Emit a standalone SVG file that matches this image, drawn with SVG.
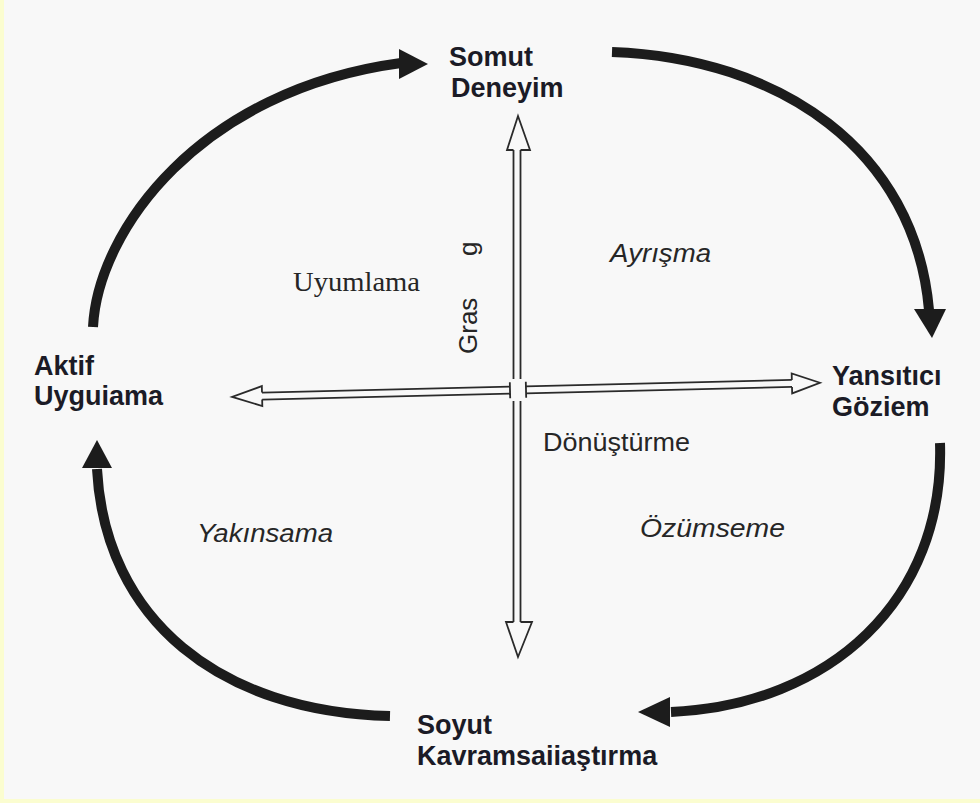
<svg xmlns="http://www.w3.org/2000/svg" width="980" height="803" viewBox="0 0 980 803">
  <style>
    .node { font-family: "Liberation Sans", Arial, sans-serif; font-weight: bold; font-size: 27px; fill: #1b1b26; }
    .lbl { font-family: "Liberation Sans", Arial, sans-serif; font-size: 26px; fill: #262626; }
    .it { font-style: italic; }
    .serif { font-family: "Liberation Serif", "Times New Roman", serif; font-size: 27px; fill: #262626; }
    .cycle { fill: none; stroke: #1c1c1c; stroke-width: 10; stroke-linecap: butt; }
    .head { fill: #1c1c1c; }
    .hollow { fill: none; stroke: #2a2a2a; stroke-width: 1.8; stroke-linejoin: miter; }
  </style>

  <!-- page background with light yellow frame edges -->
  <rect x="0" y="0" width="980" height="803" fill="#f8f8f8"/>
  <rect x="0" y="0" width="4" height="803" fill="#fbfdd0"/>
  <rect x="0" y="799" width="980" height="4" fill="#fbfdd0"/>

  <!-- learning cycle arcs and central axes -->
  <g id="connectors">
    <!-- Aktif Uygulama -> Somut Deneyim -->
    <path class="cycle" d="M93,327 C98,230 200,90 401,63"/>
    <polygon class="head" points="399,49 428,64 399,79"/>
    <!-- Somut Deneyim -> Yansıtıcı Gözlem -->
    <path class="cycle" d="M612,52 C780,58 915,150 929,310"/>
    <polygon class="head" points="914,309 946,309 932,338"/>
    <!-- Yansıtıcı Gözlem -> Soyut Kavramsallaştırma -->
    <path class="cycle" d="M940,443 C945,600 830,705 671,712"/>
    <polygon class="head" points="670,697 670,727 638,712"/>
    <!-- Soyut Kavramsallaştırma -> Aktif Uygulama -->
    <path class="cycle" d="M390,716 C220,712 105,620 97,469"/>
    <polygon class="head" points="82,468 112,468 97,440"/>

    <!-- vertical hollow double arrow -->
    <g>
      <path class="hollow" d="M513.5,150 L507,150 L518,116 L530,150 L520.5,150"/>
      <path class="hollow" d="M513.5,622 L506,622 L518,657 L532,622 L520.5,622"/>
      <line class="hollow" x1="513.5" y1="150" x2="513.5" y2="379" stroke-width="3"/>
      <line class="hollow" x1="520.5" y1="150" x2="520.5" y2="379"/>
      <line class="hollow" x1="513.5" y1="401" x2="513.5" y2="622" stroke-width="3"/>
      <line class="hollow" x1="520.5" y1="401" x2="520.5" y2="622"/>
    </g>
    <!-- horizontal hollow double arrow -->
    <g transform="rotate(-1.37 517 390)">
      <path class="hollow" d="M262,386.5 L262,380 L232,390 L262,400 L262,393.5"/>
      <path class="hollow" d="M792,386.5 L792,380 L820,390 L792,400 L792,393.5"/>
      <line class="hollow" x1="262" y1="386.5" x2="510" y2="386.5"/>
      <line class="hollow" x1="262" y1="393.5" x2="510" y2="393.5"/>
      <line class="hollow" x1="526" y1="386.5" x2="792" y2="386.5"/>
      <line class="hollow" x1="526" y1="393.5" x2="792" y2="393.5"/>
      <line class="hollow" x1="510" y1="382" x2="510" y2="398"/>
      <line class="hollow" x1="526" y1="382" x2="526" y2="398"/>
    </g>
  </g>

  <!-- stages -->
  <g id="somut-deneyim">
    <text class="node" x="449" y="66">Somut</text>
    <text class="node" x="451" y="97">Deneyim</text>
  </g>
  <g id="yansitici-gozlem">
    <text class="node" x="832" y="385">Yansıtıcı</text>
    <text class="node" x="832" y="416">Göziem</text>
  </g>
  <g id="soyut-kavramsallastirma">
    <text class="node" x="417" y="734">Soyut</text>
    <text class="node" x="417" y="765">Kavramsaiiaştırma</text>
  </g>
  <g id="aktif-uygulama">
    <text class="node" x="34" y="375">Aktif</text>
    <text class="node" x="34" y="405">Uyguiama</text>
  </g>

  <!-- quadrant and axis labels -->
  <g id="labels">
    <text class="serif" x="293" y="291" textLength="127" lengthAdjust="spacingAndGlyphs">Uyumlama</text>
    <text class="lbl it" x="610" y="262" textLength="101" lengthAdjust="spacingAndGlyphs">Ayrışma</text>
    <text class="lbl" x="543" y="451" textLength="147" lengthAdjust="spacingAndGlyphs">Dönüştürme</text>
    <text class="lbl it" x="640" y="537" textLength="145" lengthAdjust="spacingAndGlyphs">Özümseme</text>
    <text class="lbl it" x="197" y="542" textLength="136" lengthAdjust="spacingAndGlyphs">Yakınsama</text>
    <text class="lbl" transform="translate(477,354) rotate(-90)" font-size="27">Gras</text>
    <text class="lbl" transform="translate(477,256) rotate(-90)" font-size="27">g</text>
  </g>
</svg>
